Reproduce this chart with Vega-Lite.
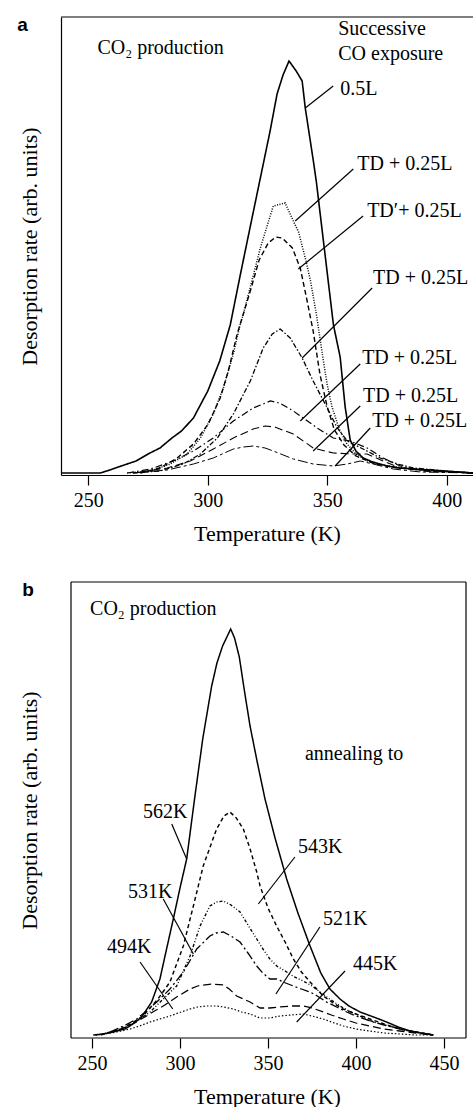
{
  "$schema": "https://vega.github.io/schema/vega-lite/v6.json",
  "background": "white",
  "padding": {"left": 17, "top": 16, "right": 0, "bottom": 0},
  "autosize": {"type": "pad"},
  "spacing": 37,
  "resolve": {"scale": {"strokeDash": "independent", "strokeWidth": "independent", "x": "independent", "y": "independent"}},
  "config": {
    "view": {"stroke": null},
    "font": "Liberation Serif",
    "axis": {
      "grid": false,
      "labelFont": "Liberation Serif",
      "titleFont": "Liberation Serif",
      "labelColor": "black",
      "titleColor": "black",
      "domainColor": "black",
      "tickColor": "black",
      "titleFontWeight": "normal",
      "labelFlush": false,
      "labelOverlap": false
    },
    "text": {"font": "Liberation Serif", "fontSize": 20, "color": "black"}
  },
  "datasets": {
    "curvesA": [
      {"series": "0.5L", "T": 239, "r": 2}, {"series": "0.5L", "T": 255, "r": 2}, {"series": "0.5L", "T": 259, "r": 5}, {"series": "0.5L", "T": 265, "r": 10}, {"series": "0.5L", "T": 270, "r": 14}, {"series": "0.5L", "T": 275, "r": 21}, {"series": "0.5L", "T": 280, "r": 27}, {"series": "0.5L", "T": 285, "r": 37}, {"series": "0.5L", "T": 289, "r": 44}, {"series": "0.5L", "T": 294, "r": 57}, {"series": "0.5L", "T": 300, "r": 84}, {"series": "0.5L", "T": 305, "r": 114}, {"series": "0.5L", "T": 309.4, "r": 150}, {"series": "0.5L", "T": 313.6, "r": 200}, {"series": "0.5L", "T": 318, "r": 251}, {"series": "0.5L", "T": 322, "r": 297}, {"series": "0.5L", "T": 326, "r": 343}, {"series": "0.5L", "T": 329, "r": 381}, {"series": "0.5L", "T": 331.5, "r": 400}, {"series": "0.5L", "T": 334, "r": 414}, {"series": "0.5L", "T": 337, "r": 404}, {"series": "0.5L", "T": 339.5, "r": 394}, {"series": "0.5L", "T": 340.8, "r": 367}, {"series": "0.5L", "T": 344, "r": 317}, {"series": "0.5L", "T": 345.4, "r": 294}, {"series": "0.5L", "T": 349, "r": 222}, {"series": "0.5L", "T": 352.6, "r": 150}, {"series": "0.5L", "T": 355.4, "r": 118}, {"series": "0.5L", "T": 357.5, "r": 68}, {"series": "0.5L", "T": 359.6, "r": 35}, {"series": "0.5L", "T": 362, "r": 24}, {"series": "0.5L", "T": 365, "r": 17}, {"series": "0.5L", "T": 369, "r": 13}, {"series": "0.5L", "T": 375, "r": 9}, {"series": "0.5L", "T": 380, "r": 7}, {"series": "0.5L", "T": 393, "r": 5}, {"series": "0.5L", "T": 411, "r": 2},

      {"series": "TD1", "T": 266.3, "r": 2}, {"series": "TD1", "T": 276, "r": 4}, {"series": "TD1", "T": 284.3, "r": 11}, {"series": "TD1", "T": 291.4, "r": 21}, {"series": "TD1", "T": 296.9, "r": 37}, {"series": "TD1", "T": 302.3, "r": 61}, {"series": "TD1", "T": 306.5, "r": 87}, {"series": "TD1", "T": 310.7, "r": 121}, {"series": "TD1", "T": 313.6, "r": 151}, {"series": "TD1", "T": 314.9, "r": 161}, {"series": "TD1", "T": 322, "r": 227}, {"series": "TD1", "T": 327.4, "r": 269}, {"series": "TD1", "T": 332.4, "r": 272}, {"series": "TD1", "T": 335.8, "r": 254}, {"series": "TD1", "T": 338, "r": 243}, {"series": "TD1", "T": 341, "r": 215}, {"series": "TD1", "T": 343, "r": 194}, {"series": "TD1", "T": 345.5, "r": 160}, {"series": "TD1", "T": 348, "r": 120}, {"series": "TD1", "T": 350, "r": 90}, {"series": "TD1", "T": 352, "r": 68}, {"series": "TD1", "T": 355, "r": 46}, {"series": "TD1", "T": 358, "r": 32}, {"series": "TD1", "T": 362, "r": 21}, {"series": "TD1", "T": 367, "r": 14}, {"series": "TD1", "T": 375, "r": 9}, {"series": "TD1", "T": 385, "r": 6}, {"series": "TD1", "T": 395, "r": 4}, {"series": "TD1", "T": 411, "r": 2},

      {"series": "TD2p", "T": 271.8, "r": 2}, {"series": "TD2p", "T": 280, "r": 7}, {"series": "TD2p", "T": 287.2, "r": 17}, {"series": "TD2p", "T": 294, "r": 31}, {"series": "TD2p", "T": 300.2, "r": 51}, {"series": "TD2p", "T": 305.2, "r": 77}, {"series": "TD2p", "T": 308.6, "r": 104}, {"series": "TD2p", "T": 312.3, "r": 141}, {"series": "TD2p", "T": 317.8, "r": 184}, {"series": "TD2p", "T": 321.5, "r": 215}, {"series": "TD2p", "T": 325.3, "r": 232}, {"series": "TD2p", "T": 328.5, "r": 238}, {"series": "TD2p", "T": 331.2, "r": 237}, {"series": "TD2p", "T": 335.4, "r": 227}, {"series": "TD2p", "T": 338.7, "r": 207}, {"series": "TD2p", "T": 341.5, "r": 175}, {"series": "TD2p", "T": 344.1, "r": 144}, {"series": "TD2p", "T": 347, "r": 100}, {"series": "TD2p", "T": 350, "r": 68}, {"series": "TD2p", "T": 353, "r": 45}, {"series": "TD2p", "T": 357, "r": 30}, {"series": "TD2p", "T": 362, "r": 19}, {"series": "TD2p", "T": 370, "r": 11}, {"series": "TD2p", "T": 380, "r": 7}, {"series": "TD2p", "T": 395, "r": 4}, {"series": "TD2p", "T": 411, "r": 2},

      {"series": "TD3", "T": 268.8, "r": 2}, {"series": "TD3", "T": 280, "r": 4}, {"series": "TD3", "T": 289.7, "r": 11}, {"series": "TD3", "T": 296.9, "r": 21}, {"series": "TD3", "T": 304, "r": 37}, {"series": "TD3", "T": 310.7, "r": 61}, {"series": "TD3", "T": 317.8, "r": 94}, {"series": "TD3", "T": 323.2, "r": 127}, {"series": "TD3", "T": 327, "r": 141}, {"series": "TD3", "T": 330.3, "r": 146}, {"series": "TD3", "T": 334.5, "r": 137}, {"series": "TD3", "T": 339.5, "r": 117}, {"series": "TD3", "T": 344.1, "r": 94}, {"series": "TD3", "T": 350, "r": 67}, {"series": "TD3", "T": 354.2, "r": 47}, {"series": "TD3", "T": 358.4, "r": 34}, {"series": "TD3", "T": 365, "r": 26}, {"series": "TD3", "T": 372.2, "r": 17}, {"series": "TD3", "T": 379.3, "r": 11}, {"series": "TD3", "T": 386, "r": 7}, {"series": "TD3", "T": 400, "r": 4}, {"series": "TD3", "T": 411, "r": 2},

      {"series": "TD4", "T": 266.3, "r": 2}, {"series": "TD4", "T": 276, "r": 6}, {"series": "TD4", "T": 285.6, "r": 14}, {"series": "TD4", "T": 294, "r": 24}, {"series": "TD4", "T": 302.3, "r": 37}, {"series": "TD4", "T": 310.7, "r": 54}, {"series": "TD4", "T": 319, "r": 67}, {"series": "TD4", "T": 326.2, "r": 74}, {"series": "TD4", "T": 330, "r": 72}, {"series": "TD4", "T": 335.8, "r": 64}, {"series": "TD4", "T": 345.8, "r": 47}, {"series": "TD4", "T": 352.5, "r": 37}, {"series": "TD4", "T": 359.6, "r": 34}, {"series": "TD4", "T": 366.7, "r": 27}, {"series": "TD4", "T": 373.4, "r": 17}, {"series": "TD4", "T": 380.5, "r": 9}, {"series": "TD4", "T": 389, "r": 4}, {"series": "TD4", "T": 411, "r": 2},

      {"series": "TD5", "T": 271.8, "r": 3}, {"series": "TD5", "T": 283, "r": 7}, {"series": "TD5", "T": 292.7, "r": 14}, {"series": "TD5", "T": 302.3, "r": 26}, {"series": "TD5", "T": 310.7, "r": 37}, {"series": "TD5", "T": 319, "r": 46}, {"series": "TD5", "T": 324, "r": 49}, {"series": "TD5", "T": 328, "r": 48}, {"series": "TD5", "T": 335.8, "r": 41}, {"series": "TD5", "T": 344.1, "r": 27}, {"series": "TD5", "T": 352.5, "r": 22}, {"series": "TD5", "T": 360.9, "r": 21}, {"series": "TD5", "T": 366.7, "r": 21}, {"series": "TD5", "T": 373.4, "r": 14}, {"series": "TD5", "T": 380.5, "r": 7}, {"series": "TD5", "T": 394, "r": 4}, {"series": "TD5", "T": 411, "r": 2},

      {"series": "TD6", "T": 268.8, "r": 2}, {"series": "TD6", "T": 283, "r": 5}, {"series": "TD6", "T": 294, "r": 11}, {"series": "TD6", "T": 302.3, "r": 17}, {"series": "TD6", "T": 310.7, "r": 26}, {"series": "TD6", "T": 315, "r": 28}, {"series": "TD6", "T": 319, "r": 29}, {"series": "TD6", "T": 324, "r": 27}, {"series": "TD6", "T": 327.4, "r": 24}, {"series": "TD6", "T": 335.8, "r": 16}, {"series": "TD6", "T": 344.1, "r": 11}, {"series": "TD6", "T": 352.5, "r": 9}, {"series": "TD6", "T": 358.4, "r": 11}, {"series": "TD6", "T": 363.8, "r": 14}, {"series": "TD6", "T": 369.2, "r": 11}, {"series": "TD6", "T": 377.6, "r": 6}, {"series": "TD6", "T": 389, "r": 3}, {"series": "TD6", "T": 411, "r": 2}
    ],
    "leadersA": [
      {"T1": 340.8, "r1": 367, "T2": 352.5, "r2": 389},
      {"T1": 336.6, "r1": 254, "T2": 360.9, "r2": 306},
      {"T1": 337.9, "r1": 206, "T2": 365, "r2": 259},
      {"T1": 339.5, "r1": 117, "T2": 368.8, "r2": 187},
      {"T1": 338.7, "r1": 54, "T2": 363.8, "r2": 111},
      {"T1": 344.1, "r1": 24, "T2": 363.8, "r2": 69},
      {"T1": 353.3, "r1": 9, "T2": 368, "r2": 47}
    ],
    "labelsA": [
      {"label": "0.5L", "T": 355.4, "r": 386},
      {"label": "TD + 0.25L", "T": 362.6, "r": 311},
      {"label": "TD′+ 0.25L", "T": 366.7, "r": 264},
      {"label": "TD + 0.25L", "T": 369.2, "r": 197},
      {"label": "TD + 0.25L", "T": 364.6, "r": 117},
      {"label": "TD + 0.25L", "T": 365, "r": 79},
      {"label": "TD + 0.25L", "T": 368.8, "r": 54},
      {"label": "Successive", "T": 354.6, "r": 446},
      {"label": "CO exposure", "T": 354.6, "r": 421},
      {"label": "CO₂ production", "T": 253.8, "r": 427}
    ],
    "curvesB": [
      {"series": "562K", "T": 250.7, "r": 3}, {"series": "562K", "T": 256.4, "r": 4}, {"series": "562K", "T": 262, "r": 6}, {"series": "562K", "T": 268.8, "r": 9}, {"series": "562K", "T": 274, "r": 15}, {"series": "562K", "T": 278.2, "r": 21}, {"series": "562K", "T": 283.9, "r": 36}, {"series": "562K", "T": 288.6, "r": 59}, {"series": "562K", "T": 292.5, "r": 90}, {"series": "562K", "T": 296.2, "r": 119}, {"series": "562K", "T": 300, "r": 150}, {"series": "562K", "T": 303.8, "r": 179}, {"series": "562K", "T": 308.5, "r": 242}, {"series": "562K", "T": 313, "r": 300}, {"series": "562K", "T": 318, "r": 352}, {"series": "562K", "T": 321, "r": 375}, {"series": "562K", "T": 324.2, "r": 392}, {"series": "562K", "T": 328.8, "r": 409}, {"series": "562K", "T": 331, "r": 400}, {"series": "562K", "T": 333.7, "r": 381}, {"series": "562K", "T": 336.8, "r": 345}, {"series": "562K", "T": 339.8, "r": 312}, {"series": "562K", "T": 344, "r": 275}, {"series": "562K", "T": 348.3, "r": 239}, {"series": "562K", "T": 354, "r": 200}, {"series": "562K", "T": 360.6, "r": 159}, {"series": "562K", "T": 367, "r": 125}, {"series": "562K", "T": 373.9, "r": 92}, {"series": "562K", "T": 380, "r": 65}, {"series": "562K", "T": 385.2, "r": 49}, {"series": "562K", "T": 390.9, "r": 39}, {"series": "562K", "T": 396, "r": 32}, {"series": "562K", "T": 402.3, "r": 26}, {"series": "562K", "T": 410, "r": 21}, {"series": "562K", "T": 417.4, "r": 16}, {"series": "562K", "T": 424, "r": 11}, {"series": "562K", "T": 430.7, "r": 7}, {"series": "562K", "T": 437, "r": 5}, {"series": "562K", "T": 443.9, "r": 3},

      {"series": "543K", "T": 255, "r": 3}, {"series": "543K", "T": 265, "r": 8}, {"series": "543K", "T": 272, "r": 14}, {"series": "543K", "T": 279, "r": 22}, {"series": "543K", "T": 287.5, "r": 39}, {"series": "543K", "T": 294.3, "r": 56}, {"series": "543K", "T": 301.9, "r": 92}, {"series": "543K", "T": 307.6, "r": 132}, {"series": "543K", "T": 313.2, "r": 172}, {"series": "543K", "T": 320.8, "r": 209}, {"series": "543K", "T": 325, "r": 222}, {"series": "543K", "T": 328.4, "r": 226}, {"series": "543K", "T": 332, "r": 220}, {"series": "543K", "T": 336, "r": 209}, {"series": "543K", "T": 340, "r": 188}, {"series": "543K", "T": 343.6, "r": 166}, {"series": "543K", "T": 345.5, "r": 152}, {"series": "543K", "T": 350, "r": 130}, {"series": "543K", "T": 354.9, "r": 112}, {"series": "543K", "T": 360, "r": 95}, {"series": "543K", "T": 364.4, "r": 79}, {"series": "543K", "T": 369, "r": 66}, {"series": "543K", "T": 373.9, "r": 56}, {"series": "543K", "T": 381.4, "r": 42}, {"series": "543K", "T": 387, "r": 35}, {"series": "543K", "T": 392.6, "r": 29}, {"series": "543K", "T": 400, "r": 24}, {"series": "543K", "T": 407.9, "r": 19}, {"series": "543K", "T": 416, "r": 14}, {"series": "543K", "T": 425, "r": 9}, {"series": "543K", "T": 434, "r": 6}, {"series": "543K", "T": 443.9, "r": 3},

      {"series": "531K", "T": 256.4, "r": 4}, {"series": "531K", "T": 264, "r": 8}, {"series": "531K", "T": 271.6, "r": 12}, {"series": "531K", "T": 283, "r": 26}, {"series": "531K", "T": 290.5, "r": 39}, {"series": "531K", "T": 298.1, "r": 52}, {"series": "531K", "T": 305.7, "r": 82}, {"series": "531K", "T": 311.4, "r": 112}, {"series": "531K", "T": 317, "r": 132}, {"series": "531K", "T": 321, "r": 136}, {"series": "531K", "T": 324.6, "r": 137}, {"series": "531K", "T": 329, "r": 133}, {"series": "531K", "T": 334.1, "r": 126}, {"series": "531K", "T": 339, "r": 112}, {"series": "531K", "T": 343.6, "r": 99}, {"series": "531K", "T": 347.5, "r": 88}, {"series": "531K", "T": 351.1, "r": 79}, {"series": "531K", "T": 355, "r": 72}, {"series": "531K", "T": 360.6, "r": 66}, {"series": "531K", "T": 365, "r": 61}, {"series": "531K", "T": 370, "r": 57}, {"series": "531K", "T": 375, "r": 52}, {"series": "531K", "T": 379.5, "r": 46}, {"series": "531K", "T": 385, "r": 39}, {"series": "531K", "T": 390.9, "r": 32}, {"series": "531K", "T": 396, "r": 27}, {"series": "531K", "T": 402.3, "r": 22}, {"series": "531K", "T": 410, "r": 16}, {"series": "531K", "T": 421, "r": 11}, {"series": "531K", "T": 432, "r": 6}, {"series": "531K", "T": 443.9, "r": 3},

      {"series": "521K", "T": 260.2, "r": 6}, {"series": "521K", "T": 268, "r": 12}, {"series": "521K", "T": 275.4, "r": 19}, {"series": "521K", "T": 281, "r": 27}, {"series": "521K", "T": 286.8, "r": 36}, {"series": "521K", "T": 294.3, "r": 49}, {"series": "521K", "T": 301.9, "r": 66}, {"series": "521K", "T": 309.5, "r": 89}, {"series": "521K", "T": 317, "r": 102}, {"series": "521K", "T": 320.5, "r": 105}, {"series": "521K", "T": 324.6, "r": 106}, {"series": "521K", "T": 329, "r": 102}, {"series": "521K", "T": 334.1, "r": 96}, {"series": "521K", "T": 339, "r": 84}, {"series": "521K", "T": 343.6, "r": 72}, {"series": "521K", "T": 347, "r": 65}, {"series": "521K", "T": 351.1, "r": 59}, {"series": "521K", "T": 354.9, "r": 59}, {"series": "521K", "T": 360, "r": 55}, {"series": "521K", "T": 364.4, "r": 52}, {"series": "521K", "T": 369, "r": 49}, {"series": "521K", "T": 373.9, "r": 46}, {"series": "521K", "T": 378, "r": 42}, {"series": "521K", "T": 383.3, "r": 36}, {"series": "521K", "T": 389, "r": 31}, {"series": "521K", "T": 394.7, "r": 26}, {"series": "521K", "T": 400, "r": 22}, {"series": "521K", "T": 407.9, "r": 17}, {"series": "521K", "T": 416, "r": 13}, {"series": "521K", "T": 425, "r": 9}, {"series": "521K", "T": 434, "r": 6}, {"series": "521K", "T": 443.9, "r": 3},

      {"series": "494K", "T": 252, "r": 3}, {"series": "494K", "T": 256.4, "r": 4}, {"series": "494K", "T": 263, "r": 7}, {"series": "494K", "T": 269.7, "r": 11}, {"series": "494K", "T": 275, "r": 16}, {"series": "494K", "T": 281, "r": 22}, {"series": "494K", "T": 285.5, "r": 27}, {"series": "494K", "T": 290.5, "r": 32}, {"series": "494K", "T": 298.1, "r": 41}, {"series": "494K", "T": 305.7, "r": 49}, {"series": "494K", "T": 310, "r": 52}, {"series": "494K", "T": 313.2, "r": 53}, {"series": "494K", "T": 318, "r": 54}, {"series": "494K", "T": 324.6, "r": 53}, {"series": "494K", "T": 328, "r": 49}, {"series": "494K", "T": 332.2, "r": 42}, {"series": "494K", "T": 336, "r": 39}, {"series": "494K", "T": 339.8, "r": 36}, {"series": "494K", "T": 345.5, "r": 30}, {"series": "494K", "T": 351, "r": 30}, {"series": "494K", "T": 356.8, "r": 31}, {"series": "494K", "T": 363, "r": 32}, {"series": "494K", "T": 370, "r": 32}, {"series": "494K", "T": 375, "r": 30}, {"series": "494K", "T": 381.4, "r": 26}, {"series": "494K", "T": 386, "r": 23}, {"series": "494K", "T": 392.8, "r": 19}, {"series": "494K", "T": 400, "r": 15}, {"series": "494K", "T": 407.9, "r": 12}, {"series": "494K", "T": 416, "r": 9}, {"series": "494K", "T": 425, "r": 7}, {"series": "494K", "T": 434, "r": 5}, {"series": "494K", "T": 443.9, "r": 3},

      {"series": "445K", "T": 252, "r": 3}, {"series": "445K", "T": 256.4, "r": 4}, {"series": "445K", "T": 264, "r": 6}, {"series": "445K", "T": 271.6, "r": 9}, {"series": "445K", "T": 277, "r": 12}, {"series": "445K", "T": 283, "r": 16}, {"series": "445K", "T": 288.5, "r": 19}, {"series": "445K", "T": 294.3, "r": 22}, {"series": "445K", "T": 299, "r": 25}, {"series": "445K", "T": 305.7, "r": 29}, {"series": "445K", "T": 310, "r": 31}, {"series": "445K", "T": 315, "r": 32}, {"series": "445K", "T": 320.8, "r": 32}, {"series": "445K", "T": 325, "r": 31}, {"series": "445K", "T": 330.3, "r": 29}, {"series": "445K", "T": 335, "r": 26}, {"series": "445K", "T": 339.8, "r": 24}, {"series": "445K", "T": 345.5, "r": 20}, {"series": "445K", "T": 351.1, "r": 20}, {"series": "445K", "T": 356.8, "r": 22}, {"series": "445K", "T": 363, "r": 23}, {"series": "445K", "T": 370, "r": 24}, {"series": "445K", "T": 375, "r": 22}, {"series": "445K", "T": 381.4, "r": 19}, {"series": "445K", "T": 386, "r": 16}, {"series": "445K", "T": 392.8, "r": 12}, {"series": "445K", "T": 400, "r": 9}, {"series": "445K", "T": 407.9, "r": 7}, {"series": "445K", "T": 416, "r": 5}, {"series": "445K", "T": 425, "r": 4}, {"series": "445K", "T": 434, "r": 3}, {"series": "445K", "T": 443.9, "r": 3}
    ],
    "leadersB": [
      {"T1": 295.3, "r1": 214, "T2": 303.8, "r2": 179},
      {"T1": 365.3, "r1": 181, "T2": 344.5, "r2": 134},
      {"T1": 290.5, "r1": 139, "T2": 307.6, "r2": 84},
      {"T1": 277.3, "r1": 76, "T2": 295.9, "r2": 29},
      {"T1": 379.5, "r1": 111, "T2": 354.5, "r2": 44},
      {"T1": 393.75, "r1": 67, "T2": 366.3, "r2": 16}
    ],
    "labelsB": [
      {"label": "CO₂ production", "T": 248.9, "r": 429},
      {"label": "annealing to", "T": 371.0, "r": 284},
      {"label": "562K", "T": 279.0, "r": 226},
      {"label": "543K", "T": 367.0, "r": 191},
      {"label": "531K", "T": 270.5, "r": 146},
      {"label": "494K", "T": 258.5, "r": 91},
      {"label": "521K", "T": 381.3, "r": 119},
      {"label": "445K", "T": 398.3, "r": 74}
    ]
  },
  "vconcat": [
    {
      "width": 412,
      "height": 458,
      "layer": [
        {
          "data": {"name": "curvesA"},
          "mark": {"type": "line", "color": "black"},
          "encoding": {
            "x": {
              "field": "T", "type": "quantitative",
              "scale": {"domain": [238.57, 411], "nice": false, "zero": false},
              "axis": {
                "values": [250, 300, 350, 400],
                "tickSize": 10, "tickWidth": 1.2, "domainWidth": 1.2,
                "labelPadding": 5, "labelFontSize": 20,
                "title": "Temperature  (K)", "titleFontSize": 22, "titlePadding": 13
              }
            },
            "y": {
              "field": "r", "type": "quantitative",
              "scale": {"domain": [0, 458], "nice": false},
              "axis": {
                "domain": true, "domainWidth": 1.2, "ticks": false, "labels": false,
                "title": "Desorption rate  (arb. units)", "titleFontSize": 22, "titlePadding": 20
              }
            },
            "detail": {"field": "series", "type": "nominal"},
            "strokeDash": {
              "field": "series", "type": "nominal", "legend": null,
              "scale": {
                "domain": ["0.5L", "TD1", "TD2p", "TD3", "TD4", "TD5", "TD6"],
                "range": [[1, 0], [1, 1.5], [5, 3], [5, 2, 1.5, 2], [7, 3, 1.5, 3], [8, 4], [10, 3, 3, 3]]
              }
            },
            "strokeWidth": {
              "field": "series", "type": "nominal", "legend": null,
              "scale": {
                "domain": ["0.5L", "TD1", "TD2p", "TD3", "TD4", "TD5", "TD6"],
                "range": [1.6, 1.0, 1.3, 1.2, 1.2, 1.2, 1.2]
              }
            }
          }
        },
        {
          "data": {"name": "leadersA"},
          "mark": {"type": "rule", "color": "black", "strokeWidth": 1.2},
          "encoding": {
            "x": {"field": "T1", "type": "quantitative"},
            "y": {"field": "r1", "type": "quantitative"},
            "x2": {"field": "T2"},
            "y2": {"field": "r2"}
          }
        },
        {
          "data": {"name": "labelsA"},
          "mark": {"type": "text", "align": "left", "baseline": "middle", "fontSize": 20},
          "encoding": {
            "x": {"field": "T", "type": "quantitative"},
            "y": {"field": "r", "type": "quantitative"},
            "text": {"field": "label", "type": "nominal"}
          }
        },
        {
          "data": {"values": [{}]},
          "mark": {"type": "rule", "color": "black", "strokeWidth": 1.2},
          "encoding": {"x": {"datum": 238.57}, "x2": {"datum": 411}, "y": {"datum": 458}}
        },
        {
          "data": {"values": [{}]},
          "mark": {"type": "text", "text": "a", "font": "Liberation Sans", "fontWeight": "bold", "fontSize": 19, "align": "center", "baseline": "middle"},
          "encoding": {"x": {"datum": 222.45}, "y": {"datum": 450}}
        }
      ]
    },
    {
      "width": 412,
      "height": 456,
      "layer": [
        {
          "data": {"name": "curvesB"},
          "mark": {"type": "line", "color": "black"},
          "encoding": {
            "x": {
              "field": "T", "type": "quantitative",
              "scale": {"domain": [232.39, 466.48], "nice": false, "zero": false},
              "axis": {
                "values": [250, 300, 350, 400, 450], "domain": false,
                "tickSize": 10, "tickWidth": 1.2,
                "labelPadding": 5, "labelFontSize": 20,
                "title": "Temperature  (K)", "titleFontSize": 22, "titlePadding": 13
              }
            },
            "y": {
              "field": "r", "type": "quantitative",
              "scale": {"domain": [0, 456], "nice": false},
              "axis": {
                "domain": false, "ticks": false, "labels": false,
                "title": "Desorption rate  (arb. units)", "titleFontSize": 22, "titlePadding": 20
              }
            },
            "detail": {"field": "series", "type": "nominal"},
            "strokeDash": {
              "field": "series", "type": "nominal", "legend": null,
              "scale": {
                "domain": ["562K", "543K", "531K", "521K", "494K", "445K"],
                "range": [[1, 0], [4, 3], [3, 2, 1, 2, 1, 2], [9, 3, 2, 3], [8, 4], [1.5, 2]]
              }
            },
            "strokeWidth": {
              "field": "series", "type": "nominal", "legend": null,
              "scale": {
                "domain": ["562K", "543K", "531K", "521K", "494K", "445K"],
                "range": [1.5, 1.2, 1.1, 1.2, 1.2, 1.3]
              }
            }
          }
        },
        {
          "data": {"name": "leadersB"},
          "mark": {"type": "rule", "color": "black", "strokeWidth": 1.2},
          "encoding": {
            "x": {"field": "T1", "type": "quantitative"},
            "y": {"field": "r1", "type": "quantitative"},
            "x2": {"field": "T2"},
            "y2": {"field": "r2"}
          }
        },
        {
          "data": {"name": "labelsB"},
          "mark": {"type": "text", "align": "left", "baseline": "middle", "fontSize": 20},
          "encoding": {
            "x": {"field": "T", "type": "quantitative"},
            "y": {"field": "r", "type": "quantitative"},
            "text": {"field": "label", "type": "nominal"}
          }
        },
        {
          "data": {"values": [{}]},
          "mark": {"type": "rule", "color": "black", "strokeWidth": 1.2},
          "encoding": {"x": {"datum": 238.07}, "y": {"datum": 0}, "y2": {"datum": 456}}
        },
        {
          "data": {"values": [{}]},
          "mark": {"type": "rule", "color": "black", "strokeWidth": 1.2},
          "encoding": {"x": {"datum": 462.5}, "y": {"datum": 0}, "y2": {"datum": 456}}
        },
        {
          "data": {"values": [{}]},
          "mark": {"type": "rule", "color": "black", "strokeWidth": 1.2},
          "encoding": {"x": {"datum": 238.07}, "x2": {"datum": 462.5}, "y": {"datum": 456}}
        },
        {
          "data": {"values": [{}]},
          "mark": {"type": "rule", "color": "black", "strokeWidth": 1.2},
          "encoding": {"x": {"datum": 238.07}, "x2": {"datum": 462.5}, "y": {"datum": 0}}
        },
        {
          "data": {"values": [{}]},
          "mark": {"type": "text", "text": "b", "font": "Liberation Sans", "fontWeight": "bold", "fontSize": 19, "align": "center", "baseline": "middle"},
          "encoding": {"x": {"datum": 213.6}, "y": {"datum": 448}}
        }
      ]
    }
  ]
}
